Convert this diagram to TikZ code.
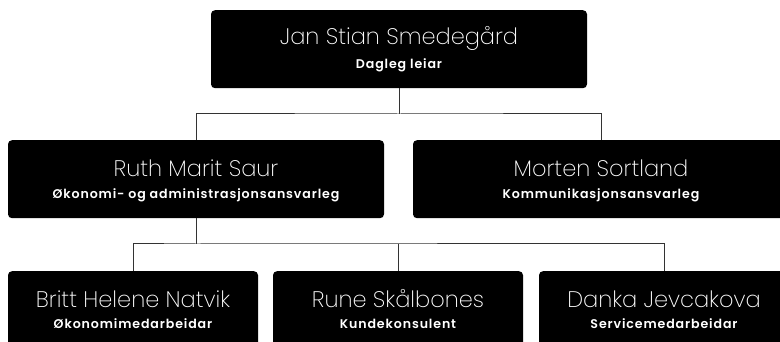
\documentclass[tikz,border=0pt]{standalone}
\usepackage{fontspec}
\setmainfont{Poppins}
\newfontfamily\namefont{Poppins ExtraLight}
\newfontfamily\rolefont{Poppins SemiBold}[LetterSpace=7]
\begin{document}
\begin{tikzpicture}[x=1pt,y=-1pt,
  box/.style={fill=black,draw=none,rounded corners=4pt,inner sep=0pt},
  bigbox/.style={box,minimum width=376pt,minimum height=78pt},
  smallbox/.style={box,minimum width=250pt,minimum height=78pt},
  nametext/.style={anchor=base,text=white,font=\namefont\fontsize{22.5}{24}\selectfont,inner sep=0pt},
  roletext/.style={anchor=base,text=white,font=\rolefont\fontsize{12.6}{14}\selectfont,inner sep=0pt},
  conn/.style={draw=black!80,line width=1pt}]
\clip (0,0) rectangle (780,342);
\useasboundingbox (0,0) rectangle (780,342);
\fill[white] (0,0) rectangle (780,342);
% boxes
\node[bigbox,anchor=north] (top) at (399,10) {};
\node[bigbox,anchor=north] (ruth) at (196,140) {};
\node[bigbox,anchor=north] (morten) at (601,140) {};
\node[smallbox,anchor=north] (britt) at (133,271) {};
\node[smallbox,anchor=north] (rune) at (398,271) {};
\node[smallbox,anchor=north] (danka) at (664,271) {};
% texts
\node[nametext] (topn) at ([yshift=-35pt]top.north) {Jan Stian Smedegård};
\node[roletext] (topr) at ([yshift=-59pt]top.north) {Dagleg leiar};
\node[nametext] (ruthn) at ([yshift=-37pt]ruth.north) {Ruth Marit Saur};
\node[roletext] (ruthr) at ([yshift=-59pt]ruth.north) {Økonomi- og administrasjonsansvarleg};
\node[nametext] (mortenn) at ([yshift=-37pt]morten.north) {Morten Sortland};
\node[roletext] (mortenr) at ([yshift=-59pt]morten.north) {Kommunikasjonsansvarleg};
\node[nametext] (brittn) at ([yshift=-36pt]britt.north) {Britt Helene Natvik};
\node[roletext] (brittr) at ([yshift=-57pt]britt.north) {Økonomimedarbeidar};
\node[nametext] (runen) at ([yshift=-36pt]rune.north) {Rune Skålbones};
\node[roletext] (runer) at ([yshift=-57pt]rune.north) {Kundekonsulent};
\node[nametext] (dankan) at ([yshift=-36pt]danka.north) {Danka Jevcakova};
\node[roletext] (dankar) at ([yshift=-57pt]danka.north) {Servicemedarbeidar};
% connectors
\coordinate (j1) at (399,114);
\coordinate (j2) at (196,244);
\draw[conn] (top.south) -- (j1);
\draw[conn] (ruth.north) |- (j1) -| (morten.north);
\draw[conn] (ruth.south) -- (j2);
\draw[conn] (britt.north) |- (j2) -| (danka.north);
\draw[conn] (rune.north) -- (rune.north |- j2);
\end{tikzpicture}
\end{document}
